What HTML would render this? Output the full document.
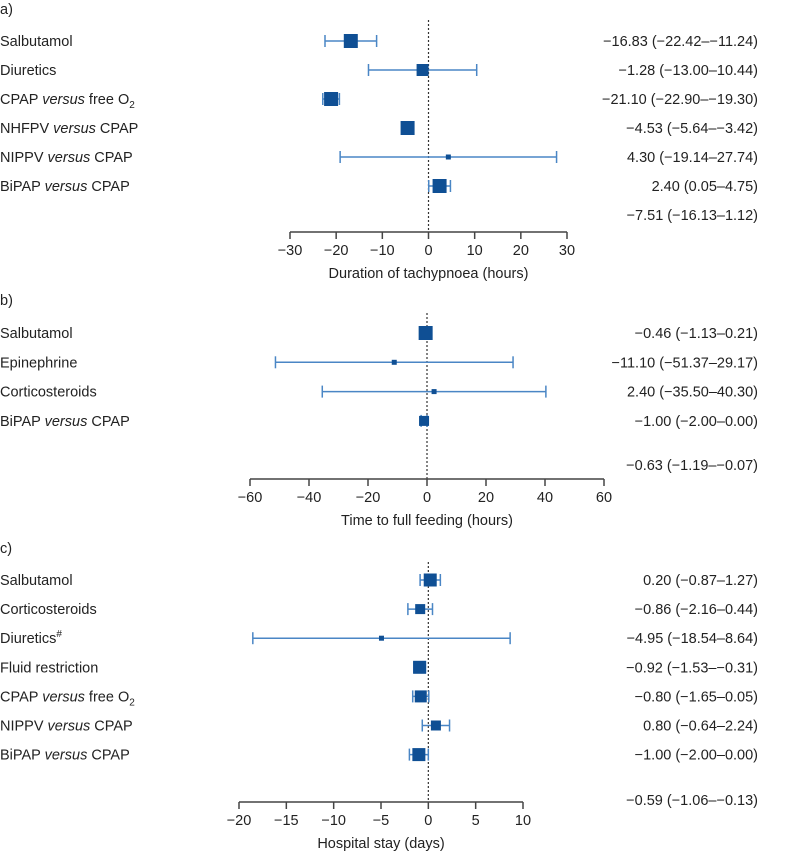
<!DOCTYPE html>
<html><head><meta charset="utf-8">
<style>
body{margin:0;background:#fff;}
svg text{font-family:"Liberation Sans",sans-serif;fill:#222;}
</style></head>
<body>
<svg id="chart" width="788" height="853" xmlns="http://www.w3.org/2000/svg"></svg>
<script>
const NS="http://www.w3.org/2000/svg";
// Panel a
const aLabels=["Salbutamol","Diuretics","CPAP <i>versus</i> free O<sub>2</sub>","NHFPV <i>versus</i> CPAP","NIPPV <i>versus</i> CPAP","BiPAP <i>versus</i> CPAP"];
const aEst=[-16.83,-1.28,-21.10,-4.53,4.30,2.40];
const aLo=[-22.42,-13.00,-22.90,-5.64,-19.14,0.05];
const aHi=[-11.24,10.44,-19.30,-3.42,27.74,4.75];
const aSize=[14,12,14,14,5,14];
const aText=["−16.83 (−22.42–−11.24)","−1.28 (−13.00–10.44)","−21.10 (−22.90–−19.30)","−4.53 (−5.64–−3.42)","4.30 (−19.14–27.74)","2.40 (0.05–4.75)"];
const aOverall="−7.51 (−16.13–1.12)";
const aTicks=[-30,-20,-10,0,10,20,30];
// Panel b
const bLabels=["Salbutamol","Epinephrine","Corticosteroids","BiPAP <i>versus</i> CPAP"];
const bEst=[-0.46,-11.10,2.40,-1.00];
const bLo=[-1.13,-51.37,-35.50,-2.00];
const bHi=[0.21,29.17,40.30,0.00];
const bSize=[14,5,5,10];
const bText=["−0.46 (−1.13–0.21)","−11.10 (−51.37–29.17)","2.40 (−35.50–40.30)","−1.00 (−2.00–0.00)"];
const bOverall="−0.63 (−1.19–−0.07)";
const bTicks=[-60,-40,-20,0,20,40,60];
// Panel c
const cLabels=["Salbutamol","Corticosteroids","Diuretics<sup>#</sup>","Fluid restriction","CPAP <i>versus</i> free O<sub>2</sub>","NIPPV <i>versus</i> CPAP","BiPAP <i>versus</i> CPAP"];
const cEst=[0.20,-0.86,-4.95,-0.92,-0.80,0.80,-1.00];
const cLo=[-0.87,-2.16,-18.54,-1.53,-1.65,-0.64,-2.00];
const cHi=[1.27,0.44,8.64,-0.31,0.05,2.24,0.00];
const cSize=[13,10,5,13,12,10,13];
const cText=["0.20 (−0.87–1.27)","−0.86 (−2.16–0.44)","−4.95 (−18.54–8.64)","−0.92 (−1.53–−0.31)","−0.80 (−1.65–0.05)","0.80 (−0.64–2.24)","−1.00 (−2.00–0.00)"];
const cOverall="−0.59 (−1.06–−0.13)";
const cTicks=[-20,-15,-10,-5,0,5,10];

const svg=document.getElementById('chart');
function el(tag,attrs,parent){const e=document.createElementNS(NS,tag);for(const k in attrs)e.setAttribute(k,attrs[k]);(parent||svg).appendChild(e);return e;}
function richText(x,y,html,anchor,parent){
  const t=el('text',{x:x,y:y,'font-size':14.5,'text-anchor':anchor||'start'},parent);
  const parts=html.split(/(<i>.*?<\/i>|<sub>.*?<\/sub>|<sup>.*?<\/sup>)/);
  let shift=0;
  parts.forEach(p=>{if(!p)return;const s=document.createElementNS(NS,'tspan');
    if(p.startsWith('<i>')){s.textContent=p.slice(3,-4);s.setAttribute('font-style','italic');}
    else if(p.startsWith('<sub>')){s.textContent=p.slice(5,-6);s.setAttribute('font-size','10');s.setAttribute('dy','4');shift=4;}
    else if(p.startsWith('<sup>')){s.textContent=p.slice(5,-6);s.setAttribute('font-size','10');s.setAttribute('dy','-6');shift=-6;}
    else {s.textContent=p;if(shift){s.setAttribute('dy',-shift);shift=0;}}
    if(p.startsWith('<i>')&&shift){s.setAttribute('dy',-shift);shift=0;}
    t.appendChild(s);});
  return t;
}
function panel(cfg){
  const g=el('g',{});
  
  
  const xs=v=>cfg.x0+(v-cfg.min)/(cfg.max-cfg.min)*(cfg.x1-cfg.x0);
  const lt=el('text',{x:0,y:cfg.titleY+5,'font-size':14.5},g);lt.textContent=cfg.title;
  
  const zl=el('line',{x1:xs(0),x2:xs(0),y1:cfg.zeroTop,y2:cfg.axisY,stroke:'#333','stroke-width':1.2,'stroke-dasharray':'2,2'},g);
  
  cfg.labels.forEach((lab,i)=>{
    const y=cfg.rowY0+i*cfg.step;
    const t=richText(0,y+5,lab,'start',g);
    
    const ci=el('g',{},g);
    
    el('line',{x1:xs(cfg.lo[i]),x2:xs(cfg.hi[i]),y1:y,y2:y,stroke:'#4a86c5','stroke-width':1.5},ci);
    el('line',{x1:xs(cfg.lo[i]),x2:xs(cfg.lo[i]),y1:y-6,y2:y+6,stroke:'#4a86c5','stroke-width':1.5},ci);
    el('line',{x1:xs(cfg.hi[i]),x2:xs(cfg.hi[i]),y1:y-6,y2:y+6,stroke:'#4a86c5','stroke-width':1.5},ci);
    const s=cfg.size[i];
    const r=el('rect',{x:xs(cfg.est[i])-s/2,y:y-s/2,width:s,height:s,fill:'#0f4f94'},g);
    
    const vt=el('text',{x:758,y:y+5,'font-size':14.5,'text-anchor':'end'},g);vt.textContent=cfg.text[i];
    
  });
  const ot=el('text',{x:758,y:cfg.overallY+5,'font-size':14.5,'text-anchor':'end'},g);ot.textContent=cfg.overall;
  
  const ax=el('g',{},g);
  
  el('line',{x1:xs(cfg.min),x2:xs(cfg.max),y1:cfg.axisY,y2:cfg.axisY,stroke:'#444','stroke-width':1.5},ax);
  cfg.ticks.forEach(v=>{
    el('line',{x1:xs(v),x2:xs(v),y1:cfg.axisY,y2:cfg.axisY+7,stroke:'#444','stroke-width':1.5},ax);
    const tt=el('text',{x:xs(v),y:cfg.tickY+5,'font-size':14.5,'text-anchor':'middle'},ax);
    tt.textContent=(v<0?'−'+Math.abs(v):String(v));
  });
  const at=el('text',{x:(xs(cfg.min)+xs(cfg.max))/2,y:cfg.labelY+5,'font-size':14.5,'text-anchor':'middle'},g);
  at.textContent=cfg.axisTitle;
  
}
panel({name:'panel-a',title:'a)',titleY:9,labels:aLabels,est:aEst,lo:aLo,hi:aHi,size:aSize,text:aText,overall:aOverall,ticks:aTicks,
  min:-30,max:30,x0:290,x1:567,zeroTop:20,rowY0:41,step:29,overallY:215,axisY:232,tickY:250,labelY:273,axisTitle:'Duration of tachypnoea (hours)'});
panel({name:'panel-b',title:'b)',titleY:300,labels:bLabels,est:bEst,lo:bLo,hi:bHi,size:bSize,text:bText,overall:bOverall,ticks:bTicks,
  min:-60,max:60,x0:250,x1:604,zeroTop:313,rowY0:333,step:29.3,overallY:465,axisY:479,tickY:497,labelY:520,axisTitle:'Time to full feeding (hours)'});
panel({name:'panel-c',title:'c)',titleY:548,labels:cLabels,est:cEst,lo:cLo,hi:cHi,size:cSize,text:cText,overall:cOverall,ticks:cTicks,
  min:-20,max:10,x0:239,x1:523,zeroTop:562,rowY0:580,step:29.1,overallY:800,axisY:802,tickY:820,labelY:843,axisTitle:'Hospital stay (days)'});
</script>
</body></html>
